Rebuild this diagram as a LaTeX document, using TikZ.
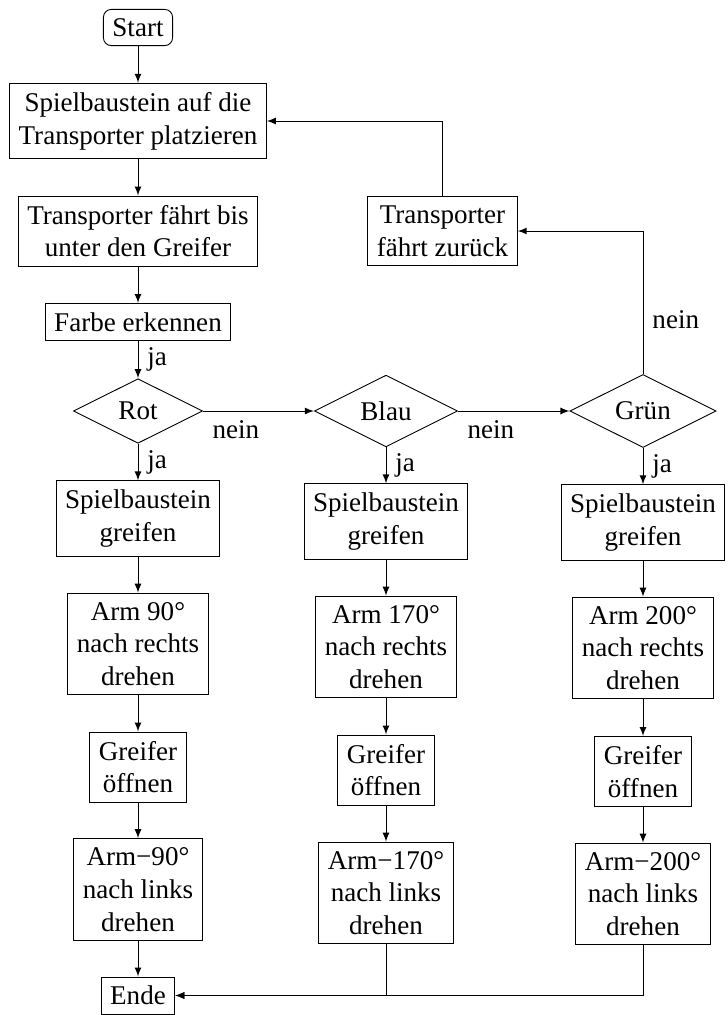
\documentclass[tikz,border=0pt]{standalone}
\usepackage{fontspec}
\setmainfont{Liberation Serif}
\usetikzlibrary{shapes.geometric,arrows}
\begin{document}
\begin{tikzpicture}[x=0.4435pt,y=-0.4435pt,
  every node/.style={font=\fontsize{12}{14.5}\selectfont},
  proc/.style={draw, rectangle, align=center, inner sep=4pt},
  term/.style={draw, rectangle, rounded corners=3.5pt, inner sep=4pt},
  dec/.style={draw, diamond, aspect=2, inner sep=4pt},
  conn/.style={draw, -latex},
  lbl/.style={inner sep=4pt}]
\useasboundingbox (0,0) rectangle (728,1015);
% column 1
\node[term] (start) at (138,27.5) {Start};
\node[proc] (b1) at (138,121) {Spielbaustein auf die\\Transporter platzieren};
\node[proc] (b2) at (138,231) {Transporter fährt bis\\unter den Greifer};
\node[proc] (farbe) at (138,322) {Farbe erkennen};
\node[dec] (rot) at (138,411) {Rot};
\node[proc] (s1) at (138,518.5) {Spielbaustein\\greifen};
\node[proc] (a1) at (138,644) {Arm 90°\\nach rechts\\drehen};
\node[proc] (g1) at (138,767) {Greifer\\öffnen};
\node[proc] (m1) at (138,889.5) {Arm−90°\\nach links\\drehen};
\node[proc] (ende) at (138,995.5) {Ende};
% column 2
\node[dec] (blau) at (386,411) {Blau};
\node[proc] (s2) at (386,521.5) {Spielbaustein\\greifen};
\node[proc] (a2) at (386,647) {Arm 170°\\nach rechts\\drehen};
\node[proc] (g2) at (386,770) {Greifer\\öffnen};
\node[proc] (m2) at (386,893) {Arm−170°\\nach links\\drehen};
% column 3
\node[dec] (gruen) at (643,411) {Grün};
\node[proc] (s3) at (643,522.5) {Spielbaustein\\greifen};
\node[proc] (a3) at (643,648) {Arm 200°\\nach rechts\\drehen};
\node[proc] (g3) at (643,771.5) {Greifer\\öffnen};
\node[proc] (m3) at (643,894) {Arm−200°\\nach links\\drehen};
% return
\node[proc] (tz) at (442.5,231) {Transporter\\fährt zurück};
% connectors
\path[conn] (start) -- (b1);
\path[conn] (b1) -- (b2);
\path[conn] (b2) -- (farbe);
\path[conn] (farbe) -- node[lbl, right] {ja} (rot);
\path[conn] (rot) -- node[lbl, right] {ja} (s1);
\path[conn] (rot) -- node[lbl, pos=0, below right] {nein} (blau);
\path[conn] (blau) -- node[lbl, pos=0, below right] {nein} (gruen);
\path[conn] (blau) -- node[lbl, right] {ja} (s2);
\path[conn] (gruen) -- node[lbl, right] {ja} (s3);
\path[conn] (gruen) |- node[lbl, pos=0.19, right] {nein} (tz);
\path[conn] (tz) |- (b1);
\path[conn] (s1) -- (a1);
\path[conn] (a1) -- (g1);
\path[conn] (g1) -- (m1);
\path[conn] (m1) -- (ende);
\path[conn] (s2) -- (a2);
\path[conn] (a2) -- (g2);
\path[conn] (g2) -- (m2);
\path[conn] (m2) |- (ende);
\path[conn] (s3) -- (a3);
\path[conn] (a3) -- (g3);
\path[conn] (g3) -- (m3);
\path[conn] (m3) |- (ende);
\end{tikzpicture}
\end{document}
